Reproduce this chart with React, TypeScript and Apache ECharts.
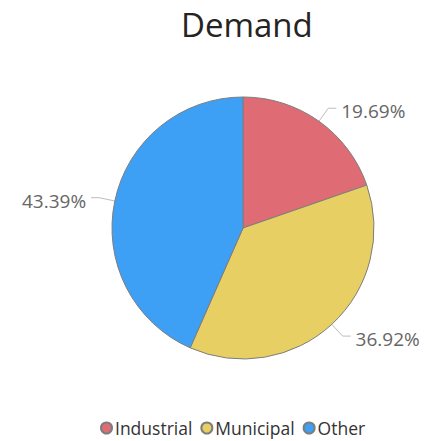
import React, { useEffect, useRef } from "react";
import * as echarts from "echarts";

const categories = ["Industrial", "Municipal", "Other"];
const values = [19.69, 36.92, 43.39];
const colors = ["#DF6B74", "#E8CF64", "#3DA0F5"];

export default function App() {
  const ref = useRef<HTMLDivElement>(null);
  useEffect(() => {
    if (!ref.current) return;
    const chart = echarts.init(ref.current, null, { renderer: "svg" });
    const font = "'Segoe UI', 'Open Sans', 'Noto Sans', sans-serif";
    chart.setOption({
      animation: false,
      backgroundColor: "#ffffff",
      title: {
        text: "Demand",
        left: 176,
        top: 3,
        textStyle: { fontSize: 33, fontWeight: 500, color: "#252423", fontFamily: font },
      },
      legend: {
        data: categories,
        left: 95,
        top: 414,
        icon: "circle",
        itemWidth: 11,
        itemHeight: 11,
        itemGap: 8,
        textStyle: { fontSize: 17.5, color: "#333", fontFamily: font, padding: [0, 0, 0, -2] },
      },
      series: [
        {
          type: "pie",
          center: [243, 228],
          radius: 131,
          startAngle: 90,
          clockwise: true,
          data: categories.map((c, i) => ({
            name: c,
            value: values[i],
            itemStyle: { color: colors[i] },
          })),
          itemStyle: { borderColor: "#7d7d7d", borderWidth: 1 },
          label: {
            show: true,
            formatter: (p: any) => p.value.toFixed(2) + "%",
            fontSize: 19,
            color: "#666",
            fontFamily: font,
          },
          labelLayout: { dy: 3 },
          labelLine: {
            show: true,
            length: 16,
            length2: 8,
            lineStyle: { color: "#bdbdbd", width: 1 },
          },
          emphasis: { disabled: true },
        },
      ],
    });
    return () => chart.dispose();
  }, []);
  return (
    <div
      ref={ref}
      style={{ position: "fixed", left: 0, top: 0, width: 438, height: 441 }}
    />
  );
}
